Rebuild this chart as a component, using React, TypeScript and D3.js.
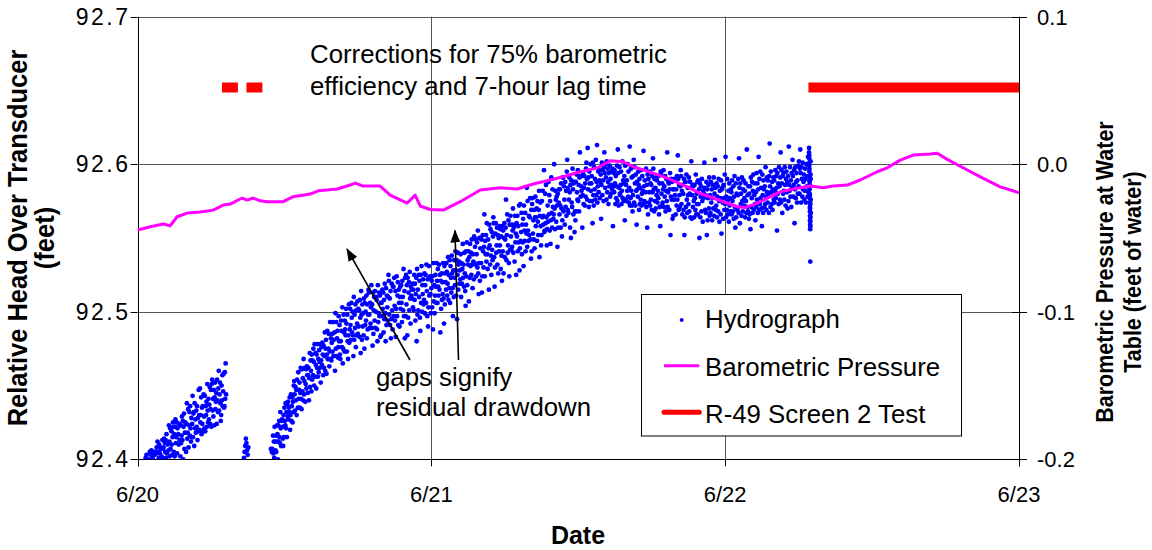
import React from "react";
import * as d3 from "d3";

const FONT = "'Liberation Sans', Arial, Helvetica, sans-serif";

// X axis: hours since 6/20 00:00
const dateHours = [0, 24, 48, 72];
const dateLabels = ["6/20", "6/21", "6/22", "6/23"];
const headTicks = [92.4, 92.5, 92.6, 92.7];
const headTickLabels = ["92.4", "92.5", "92.6", "92.7"];
const baroTicks = [-0.2, -0.1, 0.0, 0.1];
const baroTickLabels = ["-0.2", "-0.1", "0.0", "0.1"];

// Barometric pressure (feet of water), right axis
const baroHours = [0, 1.04, 2.1, 2.67, 3.24, 4.06, 5.12, 6.18, 7.0, 7.57, 8.55, 8.96, 9.45, 10.02, 10.59, 11.9, 12.72, 14.11, 14.76, 16.31, 17.37, 17.78, 18.43, 19.82, 20.64, 22.03, 22.68, 23.09, 23.91, 24.97, 26.36, 28.0, 29.63, 31.02, 32.32, 33.71, 34.77, 36.16, 37.55, 38.61, 39.67, 40.49, 42.13, 43.27, 44.9, 45.97, 47.03, 48.99, 49.64, 50.62, 52.5, 53.89, 54.95, 56.01, 56.83, 57.97, 59.03, 60.42, 61.24, 62.3, 63.36, 64.75, 65.32, 66.14, 67.78, 69.08, 70.47, 72.0];
const baroValues = [-0.0446, -0.0424, -0.0405, -0.0417, -0.0356, -0.0331, -0.0324, -0.0311, -0.0277, -0.027, -0.0229, -0.0243, -0.0229, -0.0248, -0.0254, -0.0254, -0.022, -0.0202, -0.018, -0.0168, -0.0141, -0.0128, -0.0148, -0.0148, -0.0209, -0.0263, -0.0209, -0.0283, -0.0307, -0.0311, -0.0254, -0.0175, -0.0159, -0.0168, -0.0134, -0.0107, -0.0085, -0.0051, -0.0026, 0.0024, 0.0017, -0.0017, -0.006, -0.0094, -0.0153, -0.0197, -0.0229, -0.0288, -0.0294, -0.0263, -0.0187, -0.0163, -0.0148, -0.0159, -0.0148, -0.0141, -0.0107, -0.0051, -0.0024, 0.0028, 0.0062, 0.0069, 0.0074, 0.0033, -0.0039, -0.0096, -0.0153, -0.0193];

// Hydrograph readings (feet), 2-minute logger interval unless noted
const hydroEarlyStartHour = 0.6;
const hydroEarly = [
  92.393, 92.398, 92.401, 92.396, 92.403, 92.394, 92.399, 92.398, 92.400, 92.396, 92.399, 92.395,
  92.405, 92.399, 92.403, 92.397, 92.406, 92.400, 92.394, 92.402, 92.400, 92.396, 92.405, 92.399, 92.403, 92.398, 92.405,
  92.396, 92.404, 92.408, 92.399, 92.412, 92.398, 92.405, 92.401, 92.410, 92.395, 92.404, 92.408, 92.400, 92.407, 92.402,
  92.396, 92.413, 92.407, 92.400, 92.408, 92.414, 92.396, 92.411, 92.405, 92.413, 92.401, 92.417, 92.404, 92.398, 92.410,
  92.411, 92.406, 92.423, 92.412, 92.402, 92.421, 92.407, 92.397, 92.419, 92.410, 92.403, 92.415, 92.425, 92.422, 92.405,
  92.417, 92.402, 92.422, 92.427, 92.411, 92.415, 92.425, 92.404, 92.421, 92.399, 92.417, 92.410, 92.424, 92.413, 92.423,
  92.402, 92.423, 92.411, 92.416, 92.429, 92.413, 92.426, 92.400, 92.422, 92.431, 92.407, 92.418, 92.425, 92.424, 92.405,
  92.424, 92.438, 92.414, 92.418, 92.434, 92.408, 92.423, 92.432, 92.416, 92.436, 92.421, 92.412, 92.428, 92.415, 92.424,
  92.443, 92.415, 92.431, 92.432, 92.409, 92.438, 92.421, 92.427, 92.418, 92.433, 92.422, 92.436, 92.413, 92.428, 92.419,
  92.447, 92.430, 92.420, 92.448, 92.425, 92.430, 92.442, 92.417, 92.435, 92.424, 92.436, 92.419, 92.444, 92.429, 92.421,
  92.443, 92.419, 92.436, 92.430, 92.439, 92.422, 92.451, 92.433, 92.425, 92.441, 92.427, 92.437, 92.449, 92.424, 92.434,
  92.447, 92.422, 92.451, 92.454, 92.433, 92.441, 92.429, 92.447, 92.423, 92.442, 92.452, 92.434, 92.439, 92.445, 92.424,
  92.454, 92.440, 92.432, 92.448, 92.460, 92.433, 92.444, 92.452, 92.438, 92.426, 92.430, 92.450, 92.440, 92.457, 92.436,
  92.446, 92.458, 92.435, 92.436, 92.459, 92.441, 92.465, 92.444,
];
const hydroBlipStartHour = 8.7;
const hydroBlip = [92.401, 92.405, 92.409, 92.414, 92.411, 92.406, 92.403, 92.408];

const hydroJun20StartHour = 10.9;
const hydroJun20 = [
  92.407, 92.398, 92.405,
  92.407, 92.395, 92.416, 92.404, 92.412, 92.401, 92.422, 92.412, 92.406, 92.416, 92.405, 92.412, 92.423, 92.417, 92.400,
  92.423, 92.412, 92.426, 92.415, 92.411, 92.432, 92.421, 92.409, 92.426, 92.427, 92.422, 92.414, 92.409, 92.430, 92.415,
  92.435, 92.426, 92.423, 92.438, 92.421, 92.432, 92.415, 92.437, 92.429, 92.439, 92.427, 92.435, 92.432, 92.442, 92.420,
  92.430, 92.444, 92.426, 92.436, 92.442, 92.425, 92.439, 92.432, 92.450, 92.453, 92.444, 92.433, 92.449, 92.440, 92.447,
  92.430, 92.454, 92.447, 92.435, 92.459, 92.441, 92.447, 92.452, 92.435, 92.445, 92.462, 92.441, 92.434, 92.461, 92.446,
  92.455, 92.440, 92.468, 92.444, 92.453, 92.462, 92.439, 92.451, 92.461, 92.448, 92.463, 92.457, 92.445, 92.457, 92.462,
  92.440, 92.455, 92.472, 92.449, 92.467, 92.460, 92.446, 92.471, 92.454, 92.467, 92.457, 92.475, 92.466, 92.450, 92.478,
  92.456, 92.472, 92.464, 92.448, 92.471, 92.462, 92.478, 92.456, 92.468, 92.459, 92.474, 92.466, 92.462, 92.478, 92.452,
  92.467, 92.476, 92.464, 92.479, 92.471, 92.457, 92.477, 92.462, 92.470, 92.486, 92.460, 92.475, 92.481, 92.458, 92.471,
  92.487, 92.468, 92.468, 92.475, 92.485, 92.463, 92.473, 92.493, 92.468, 92.482, 92.467, 92.479, 92.485, 92.473, 92.493,
  92.470, 92.481, 92.470, 92.486, 92.460, 92.499, 92.475, 92.493, 92.470, 92.482, 92.487, 92.469, 92.476, 92.497, 92.480,
  92.491, 92.471, 92.468, 92.480, 92.494, 92.487, 92.476, 92.503, 92.465, 92.475, 92.498, 92.486, 92.473, 92.494, 92.488,
  92.484, 92.502, 92.492, 92.473, 92.498, 92.480, 92.468, 92.484, 92.505, 92.479, 92.488, 92.502, 92.491, 92.481, 92.506,
  92.496, 92.486, 92.500, 92.484, 92.470, 92.510, 92.481, 92.498, 92.489, 92.505, 92.476, 92.501, 92.484, 92.492, 92.507,
  92.485, 92.502, 92.490, 92.501, 92.483, 92.508, 92.496, 92.472, 92.514, 92.498, 92.481, 92.505, 92.490, 92.499, 92.484,
  92.509, 92.475, 92.506, 92.491, 92.500, 92.494, 92.511, 92.482, 92.505, 92.488, 92.498, 92.515, 92.513, 92.498, 92.489,
  92.506, 92.492, 92.503, 92.518, 92.489, 92.505, 92.477, 92.513, 92.485, 92.501, 92.510, 92.494, 92.514, 92.489, 92.500,
  92.510, 92.508, 92.488, 92.480, 92.518, 92.493, 92.499, 92.513, 92.497, 92.511, 92.483, 92.506, 92.484, 92.506, 92.497,
  92.515, 92.502, 92.513, 92.486, 92.508, 92.495, 92.519, 92.499, 92.480, 92.516, 92.491, 92.511, 92.503, 92.494, 92.510,
  92.525, 92.521, 92.498, 92.509, 92.491, 92.514, 92.482, 92.495, 92.519, 92.501, 92.488, 92.517, 92.517, 92.497, 92.523,
  92.504, 92.494, 92.514, 92.483, 92.502, 92.524, 92.497, 92.511, 92.520, 92.491, 92.515, 92.506, 92.490, 92.510, 92.517,
  92.502, 92.518, 92.506, 92.493, 92.521, 92.510, 92.501, 92.529, 92.497, 92.514, 92.482, 92.523, 92.497, 92.525, 92.505,
  92.518, 92.484, 92.523, 92.496, 92.513, 92.520, 92.501, 92.527, 92.509, 92.492, 92.517, 92.511, 92.515, 92.509, 92.519,
  92.503, 92.515, 92.501, 92.525, 92.508, 92.519, 92.494, 92.512, 92.523, 92.480, 92.529, 92.498, 92.515, 92.501, 92.525,
  92.510, 92.521, 92.496, 92.487, 92.525, 92.506, 92.531, 92.500, 92.518, 92.512, 92.522, 92.505, 92.508, 92.526, 92.499,
  92.518, 92.525, 92.506, 92.532, 92.514, 92.497, 92.522, 92.490, 92.503, 92.531, 92.511, 92.523, 92.524, 92.512, 92.499,
];

const hydroJun21StartHour = 24.0;
const hydroJun21 = [
  92.516, 92.521, 92.503, 92.524, 92.488, 92.533, 92.507, 92.518, 92.499, 92.511, 92.525, 92.517, 92.506, 92.533, 92.521,
  92.506, 92.529, 92.517, 92.511, 92.532, 92.515, 92.525, 92.486, 92.521, 92.502, 92.526, 92.508, 92.520, 92.512, 92.533,
  92.509, 92.492, 92.531, 92.505, 92.526, 92.520, 92.515, 92.533, 92.527, 92.511, 92.519, 92.537, 92.508, 92.525, 92.516,
  92.535, 92.506, 92.531, 92.523, 92.513, 92.538, 92.526, 92.516, 92.497, 92.528, 92.510, 92.535, 92.523, 92.518, 92.541,
  92.528, 92.511, 92.535, 92.495, 92.525, 92.540, 92.515, 92.532, 92.534, 92.519, 92.528, 92.522, 92.539, 92.510, 92.533,
  92.519, 92.529, 92.546, 92.523, 92.532, 92.517, 92.540, 92.526, 92.514, 92.504, 92.541, 92.524, 92.547, 92.518, 92.535,
  92.532, 92.541, 92.507, 92.537, 92.523, 92.546, 92.531, 92.540, 92.525, 92.549, 92.532, 92.516, 92.539, 92.534, 92.522,
  92.551, 92.533, 92.544, 92.532, 92.549, 92.524, 92.539, 92.547, 92.530, 92.555, 92.526, 92.512, 92.533, 92.550, 92.521,
  92.543, 92.550, 92.533, 92.549, 92.513, 92.524, 92.552, 92.541, 92.530, 92.544, 92.566, 92.524, 92.548, 92.539, 92.552,
  92.534, 92.560, 92.539, 92.529, 92.549, 92.543, 92.515, 92.559, 92.545, 92.532, 92.556, 92.538, 92.525, 92.554, 92.542,
  92.535, 92.551, 92.564, 92.560, 92.537, 92.517, 92.530, 92.553, 92.560, 92.540, 92.545, 92.557, 92.532, 92.552, 92.526,
  92.550, 92.541, 92.558, 92.545, 92.556, 92.529, 92.551, 92.538, 92.521, 92.558, 92.541, 92.555, 92.526, 92.550, 92.560,
  92.537, 92.549, 92.557, 92.576, 92.535, 92.552, 92.566, 92.540, 92.545, 92.562, 92.533, 92.524, 92.559, 92.542, 92.565,
  92.551, 92.542, 92.559, 92.544, 92.555, 92.570, 92.540, 92.557, 92.559, 92.534, 92.565, 92.547, 92.553, 92.525, 92.560,
  92.551, 92.565, 92.541, 92.558, 92.547, 92.572, 92.528, 92.543, 92.573, 92.548, 92.554, 92.567, 92.539, 92.559, 92.547,
  92.563, 92.531, 92.572, 92.555, 92.548, 92.567, 92.541, 92.559, 92.553, 92.584, 92.544, 92.575, 92.555, 92.548, 92.565,
  92.552, 92.564, 92.577, 92.549, 92.536, 92.569, 92.541, 92.573, 92.577, 92.553, 92.562, 92.549, 92.569, 92.543, 92.564,
  92.578, 92.558, 92.564, 92.570, 92.548, 92.575, 92.561, 92.552, 92.569, 92.582, 92.537, 92.565, 92.574, 92.558, 92.545,
  92.552, 92.575, 92.564, 92.582, 92.559, 92.565, 92.596, 92.554, 92.555, 92.580, 92.560, 92.586, 92.564, 92.545, 92.556,
  92.572, 92.561, 92.588, 92.566, 92.579, 92.555, 92.575, 92.546, 92.562, 92.591, 92.567, 92.557, 92.583, 92.571, 92.563,
  92.566, 92.600, 92.570, 92.556, 92.582, 92.576, 92.561, 92.578, 92.572, 92.544, 92.580, 92.557, 92.574, 92.583, 92.566,
  92.583, 92.572, 92.557, 92.587, 92.570, 92.551, 92.562, 92.591, 92.591, 92.568, 92.585, 92.576, 92.559, 92.588, 92.571,
  92.582, 92.565, 92.595, 92.603, 92.569, 92.584, 92.567, 92.576, 92.591, 92.581, 92.557, 92.586, 92.550, 92.589, 92.574,
  92.571, 92.597, 92.583, 92.566, 92.587, 92.588, 92.554, 92.568, 92.562, 92.588, 92.568, 92.593, 92.581, 92.576, 92.596,
  92.575, 92.586, 92.568, 92.591, 92.608, 92.592, 92.578, 92.585, 92.582, 92.592, 92.557, 92.579, 92.594, 92.573, 92.584,
  92.592, 92.572, 92.587, 92.578, 92.597, 92.601, 92.590, 92.576, 92.611, 92.583, 92.591, 92.571, 92.595, 92.587, 92.575,
  92.600, 92.582, 92.587, 92.592, 92.575, 92.560, 92.601, 92.579, 92.572, 92.598, 92.583, 92.590, 92.576, 92.603, 92.579,
  92.588, 92.613, 92.574, 92.585, 92.595, 92.581, 92.596, 92.589, 92.577, 92.588, 92.593, 92.563, 92.586, 92.601, 92.579,
  92.596, 92.589, 92.575, 92.598, 92.608, 92.594, 92.584, 92.600, 92.591, 92.576, 92.602, 92.581, 92.597, 92.588, 92.573,
  92.594, 92.585, 92.599, 92.578, 92.590, 92.580, 92.595, 92.586, 92.583, 92.597, 92.558, 92.585, 92.594, 92.581, 92.596,
  92.587, 92.573, 92.592, 92.577, 92.585, 92.599, 92.575, 92.610, 92.594, 92.572, 92.584, 92.598, 92.580, 92.579, 92.586,
  92.595, 92.573, 92.582, 92.602, 92.577, 92.589, 92.575, 92.587, 92.592, 92.562, 92.599, 92.576, 92.586, 92.575, 92.589,
  92.582, 92.600, 92.578, 92.595, 92.574, 92.584, 92.612, 92.572, 92.577, 92.597, 92.582, 92.591, 92.572, 92.568, 92.579,
  92.592, 92.603, 92.574, 92.598, 92.587, 92.572, 92.593, 92.582, 92.559, 92.588, 92.583, 92.578, 92.595, 92.586, 92.569,
  92.590, 92.573, 92.584, 92.576, 92.596, 92.572, 92.580, 92.592, 92.582, 92.573, 92.609, 92.585, 92.575, 92.589, 92.574,
  92.581, 92.597, 92.571, 92.586, 92.557, 92.593, 92.566, 92.590, 92.574, 92.581, 92.595, 92.572, 92.587, 92.576, 92.586,
  92.569, 92.592, 92.581, 92.604, 92.597, 92.583, 92.568, 92.590, 92.575, 92.584, 92.570, 92.591, 92.579, 92.589, 92.574,
  92.582, 92.577, 92.592, 92.566, 92.587, 92.571, 92.558, 92.595, 92.594, 92.580, 92.572, 92.587, 92.574, 92.583, 92.596,
  92.571, 92.585, 92.578, 92.592, 92.568, 92.582, 92.590, 92.575, 92.608, 92.571, 92.581, 92.588, 92.587, 92.569, 92.583,
  92.594, 92.552, 92.578, 92.590, 92.576, 92.588, 92.563, 92.583, 92.565, 92.583, 92.576, 92.590, 92.579, 92.589, 92.566,
  92.583, 92.572, 92.592, 92.576, 92.606, 92.590, 92.569, 92.586, 92.579, 92.571, 92.585, 92.596, 92.592, 92.573, 92.582,
  92.566, 92.586, 92.580, 92.569, 92.590, 92.552, 92.564, 92.588, 92.588, 92.571, 92.593, 92.576, 92.567, 92.584, 92.579,
  92.573, 92.591, 92.568, 92.580, 92.588, 92.564, 92.584, 92.602, 92.563, 92.579, 92.586, 92.571, 92.585, 92.575, 92.564,
  92.586, 92.577, 92.569, 92.593, 92.566, 92.580, 92.573, 92.588, 92.566, 92.589, 92.573, 92.583, 92.550, 92.587, 92.564,
  92.578, 92.585, 92.568, 92.590, 92.575, 92.561, 92.582, 92.577, 92.580, 92.601, 92.584, 92.569, 92.579, 92.567, 92.588,
  92.552, 92.583, 92.562, 92.577, 92.586, 92.570, 92.591, 92.565, 92.579, 92.567, 92.588, 92.574, 92.583, 92.562, 92.577,
  92.586, 92.570, 92.591, 92.565, 92.580, 92.603, 92.584, 92.569, 92.572, 92.587, 92.564, 92.578, 92.585, 92.568, 92.590,
  92.575, 92.561, 92.582, 92.577, 92.566, 92.589, 92.553, 92.583, 92.584, 92.574, 92.563, 92.586, 92.577, 92.569, 92.593,
];

const hydroJun22StartHour = 48.0;
const hydroJun22 = [
  92.573, 92.605, 92.564, 92.578, 92.569, 92.590, 92.575, 92.566, 92.582, 92.561, 92.587, 92.572, 92.577, 92.568, 92.583,
  92.581, 92.566, 92.589, 92.575, 92.568, 92.585, 92.563, 92.578, 92.592, 92.571, 92.557, 92.587, 92.564, 92.580, 92.570,
  92.569, 92.579, 92.590, 92.567, 92.604, 92.584, 92.560, 92.587, 92.573, 92.580, 92.565, 92.591, 92.575, 92.568, 92.583,
  92.589, 92.572, 92.577, 92.582, 92.564, 92.587, 92.575, 92.567, 92.610, 92.571, 92.579, 92.568, 92.585, 92.563, 92.580,
  92.566, 92.585, 92.556, 92.591, 92.571, 92.577, 92.588, 92.567, 92.582, 92.593, 92.569, 92.579, 92.587, 92.573, 92.562,
  92.581, 92.571, 92.594, 92.576, 92.587, 92.567, 92.583, 92.605, 92.569, 92.590, 92.573, 92.595, 92.577, 92.584, 92.570,
  92.558, 92.593, 92.579, 92.567, 92.589, 92.583, 92.571, 92.585, 92.573, 92.598, 92.578, 92.569, 92.591, 92.581, 92.574,
  92.589, 92.580, 92.567, 92.592, 92.614, 92.585, 92.571, 92.595, 92.581, 92.573, 92.588, 92.569, 92.583, 92.591, 92.576,
  92.589, 92.574, 92.582, 92.596, 92.577, 92.592, 92.584, 92.555, 92.594, 92.580, 92.587, 92.573, 92.598, 92.585, 92.576,
  92.591, 92.608, 92.574, 92.596, 92.587, 92.567, 92.592, 92.580, 92.594, 92.582, 92.576, 92.598, 92.586, 92.572, 92.590,
  92.595, 92.581, 92.588, 92.570, 92.592, 92.575, 92.612, 92.586, 92.582, 92.598, 92.578, 92.589, 92.571, 92.594, 92.584,
  92.603, 92.592, 92.578, 92.586, 92.596, 92.560, 92.583, 92.598, 92.577, 92.588, 92.594, 92.574, 92.589, 92.580, 92.599,
  92.585, 92.602, 92.580, 92.597, 92.610, 92.594, 92.574, 92.598, 92.590, 92.578, 92.601, 92.583, 92.588, 92.593, 92.576,
  92.582, 92.597, 92.590, 92.574, 92.600, 92.585, 92.592, 92.578, 92.605, 92.581,
];

// Rapid readings at start of test (15-second interval)
const hydroTestStartHour = 54.85;
const hydroTest = [
  92.608, 92.611, 92.604, 92.599, 92.606, 92.601, 92.595, 92.592, 92.597, 92.589,
  92.586, 92.583, 92.588, 92.580, 92.577, 92.574, 92.579, 92.571, 92.568, 92.565,
  92.570, 92.562, 92.559, 92.556, 92.561, 92.534, 92.558, 92.564, 92.573, 92.585,
  92.593, 92.602, 92.590, 92.576, 92.567,
];

// R-49 Screen 2 test periods (hours since 6/20 00:00)
const testStartHours = [6.9, 8.9, 54.8];
const testEndHours = [8.2, 10.2, 72];
const testLevel = 92.652;

const W = 1152, H = 550;
const L = 137.5, R = 1019, T = 16.7, B = 459.3;

export default function App() {
  const x = d3.scaleLinear().domain([0, 72]).range([L, R]);
  const yL = d3.scaleLinear().domain([92.4, 92.7]).range([B, T]);
  const yR = d3.scaleLinear().domain([-0.2, 0.1]).range([B, T]);

  const segments = [
    { start: hydroEarlyStartHour, step: 2 / 60, values: hydroEarly },
    { start: hydroBlipStartHour, step: 3 / 60, values: hydroBlip },
    { start: hydroJun20StartHour, step: 2 / 60, values: hydroJun20 },
    { start: hydroJun21StartHour, step: 2 / 60, values: hydroJun21 },
    { start: hydroJun22StartHour, step: 2 / 60, values: hydroJun22 },
    { start: hydroTestStartHour, step: 0.25 / 60, values: hydroTest },
  ];
  const pts: [number, number][] = [];
  segments.forEach((s) =>
    s.values.forEach((v, i) => {
      if (v >= 92.4 && v <= 92.7) pts.push([s.start + i * s.step, v]);
    })
  );

  const baroLine = d3
    .line<number>()
    .x((_, i) => x(baroHours[i]))
    .y((d) => yR(d))(baroValues) as string;

  const crisp = (v: number) => Math.round(v) + 0.5;
  const grid = "#555";

  return (
    <svg
      width={W}
      height={H}
      style={{ position: "absolute", left: 0, top: 0, background: "#fff" }}
      fontFamily={FONT}
    >
      <defs>
        <marker id="arr" markerUnits="userSpaceOnUse" markerWidth="13" markerHeight="10" refX="12" refY="5" orient="auto">
          <path d="M0,0 L13,5 L0,10 z" fill="#000" />
        </marker>
        <clipPath id="plot">
          <rect x={L} y={T - 3} width={R - L} height={B - T + 3} />
        </clipPath>
      </defs>
      <rect x={0} y={0} width={W} height={H} fill="#fff" />

      {/* gridlines */}
      {headTicks.slice(1).map((t) => (
        <line key={"hg" + t} x1={L} x2={R} y1={crisp(yL(t))} y2={crisp(yL(t))} stroke={grid} strokeWidth={1} />
      ))}
      {dateHours.slice(1, 3).map((h) => (
        <line key={"vg" + h} x1={crisp(x(h))} x2={crisp(x(h))} y1={T} y2={B} stroke={grid} strokeWidth={1} />
      ))}

      {/* axes */}
      <line x1={crisp(L)} x2={crisp(L)} y1={T} y2={B + 7} stroke="#000" strokeWidth={1} />
      <line x1={crisp(R)} x2={crisp(R)} y1={T} y2={B + 7} stroke="#000" strokeWidth={1} />
      <line x1={L} x2={R} y1={crisp(B)} y2={crisp(B)} stroke="#000" strokeWidth={1} />
      {headTicks.map((t) => (
        <line key={"lt" + t} x1={L - 7} x2={L} y1={crisp(yL(t))} y2={crisp(yL(t))} stroke="#000" />
      ))}
      {baroTicks.map((t) => (
        <line key={"rt" + t} x1={R - 7} x2={R + 8} y1={crisp(yR(t))} y2={crisp(yR(t))} stroke="#000" />
      ))}
      {dateHours.map((h) => (
        <line key={"bt" + h} x1={crisp(x(h))} x2={crisp(x(h))} y1={B} y2={B + 7} stroke="#000" />
      ))}

      {/* tick labels */}
      {headTicks.map((t, i) => (
        <text key={"ll" + t} x={130.5} y={yL(t) + 8} textAnchor="end" fontSize={23} letterSpacing={2.5} fill="#000">
          {headTickLabels[i]}
        </text>
      ))}
      {baroTicks.map((t, i) => (
        <text key={"rl" + t} x={1037} y={yR(t) + 8} textAnchor="start" fontSize={22} fill="#000">
          {baroTickLabels[i]}
        </text>
      ))}
      {dateHours.map((h, i) => (
        <text key={"bl" + h} x={x(h)} y={502} textAnchor="middle" fontSize={22} fill="#000">
          {dateLabels[i]}
        </text>
      ))}

      {/* data */}
      <g clipPath="url(#plot)">
        {pts.map((p, i) => (
          <circle key={i} cx={x(p[0])} cy={yL(p[1])} r={2.4} fill="#0000ff" />
        ))}
        <path d={baroLine} fill="none" stroke="#ff00ff" strokeWidth={3} strokeLinejoin="round" />
        {testStartHours.map((s, i) => (
          <line key={"tl" + i} x1={x(s)} x2={x(testEndHours[i])} y1={yL(testLevel)} y2={yL(testLevel)} stroke="#ff0000" strokeWidth={10} />
        ))}
      </g>

      {/* annotations */}
      <text x={310} y={62.7} fontSize={25.8} fill="#000">Corrections for 75% barometric</text>
      <text x={310} y={95} fontSize={25.8} fill="#000">efficiency and 7-hour lag time</text>
      <text x={376} y={386} fontSize={25.8} fill="#000">gaps signify</text>
      <text x={376} y={416} fontSize={25.8} fill="#000">residual drawdown</text>
      <line x1={410} y1={360} x2={347} y2={249} stroke="#000" strokeWidth={1.6} markerEnd="url(#arr)" />
      <line x1={458.5} y1={360} x2={455} y2={230.5} stroke="#000" strokeWidth={1.6} markerEnd="url(#arr)" />

      {/* legend */}
      <rect x={641.5} y={294.5} width={320} height={141.5} fill="#fff" stroke="#000" strokeWidth={1} />
      <circle cx={681.7} cy={320} r={2} fill="#0000ff" />
      <text x={705} y={328.3} fontSize={25.8} fill="#000">Hydrograph</text>
      <line x1={664} x2={699.3} y1={365.7} y2={365.7} stroke="#ff00ff" strokeWidth={3} />
      <text x={705} y={375.5} fontSize={25.8} fill="#000">Barometric Pressure</text>
      <line x1={664} x2={699.3} y1={412.3} y2={412.3} stroke="#ff0000" strokeWidth={5} strokeLinecap="round" />
      <text x={705} y={423} fontSize={25.8} fill="#000">R-49 Screen 2 Test</text>

      {/* axis titles */}
      <text transform="translate(27,238) rotate(-90) scale(1,1.08)" textAnchor="middle" fontSize={25.5} fontWeight="bold" fill="#000">
        Relative Head Over Transducer
      </text>
      <text transform="translate(54,238) rotate(-90) scale(1,1.08)" textAnchor="middle" fontSize={25.5} fontWeight="bold" fill="#000">
        (feet)
      </text>
      <text transform="translate(1113,272) rotate(-90) scale(1,1.1)" textAnchor="middle" fontSize={21.5} fontWeight="bold" fill="#000">
        Barometric Pressure at Water
      </text>
      <text transform="translate(1141,272) rotate(-90) scale(1,1.1)" textAnchor="middle" fontSize={21.5} fontWeight="bold" fill="#000">
        Table (feet of water)
      </text>
      <text x={578} y={544} textAnchor="middle" fontSize={25} fontWeight="bold" fill="#000">
        Date
      </text>
    </svg>
  );
}
